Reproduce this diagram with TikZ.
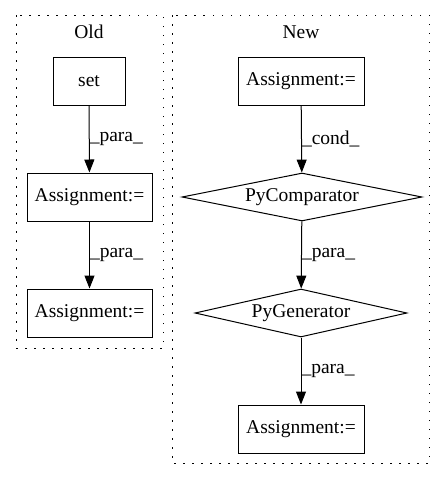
\documentclass[tikz,border=0pt]{standalone}
\usepackage{fontspec}
\setmainfont{Liberation Serif}
\usetikzlibrary{shapes.geometric,arrows.meta}
\begin{document}
\begin{tikzpicture}[x=1pt,y=-1pt,
  every node/.style={font=\fontsize{19.5pt}{22pt}\selectfont},
  cluster/.style={draw,line width=1pt,dash pattern=on 1.5pt off 7.5pt},
  box/.style={draw,line width=1pt,rectangle,inner sep=0pt},
  dia/.style={draw,line width=1pt,diamond,aspect=5,inner sep=0pt},
  edge/.style={line width=1pt,-{Triangle[length=13pt,width=10pt]}},
  elabel/.style={anchor=west,inner sep=0pt}]
\useasboundingbox (0,0) rectangle (445,480);
\draw[cluster] (16,15) rectangle (163,348);
\draw[cluster] (172,15) rectangle (429,463);
\node (oldt) at (89,32) {Old};
\node (newt) at (301,32) {New};
\node[box,minimum width=72pt,minimum height=48pt] (set) at (89,81) {set};
\node[box,minimum width=125pt,minimum height=48pt] (oa1) at (89.5,197) {Assignment:=};
\node[box,minimum width=125pt,minimum height=48pt] (oa2) at (89.5,313) {Assignment:=};
\node[box,minimum width=126pt,minimum height=48pt] (na1) at (301,81) {Assignment:=};
\node[dia,minimum width=240pt,minimum height=48pt] (pc) at (302,197) {PyComparator};
\node[dia,minimum width=212pt,minimum height=48pt] (pg) at (301,313) {PyGenerator};
\node[box,minimum width=126pt,minimum height=48pt] (na2) at (301,429) {Assignment:=};
\draw[edge] (set) -- (oa1) node[elabel,pos=0.5] {\_para\_};
\draw[edge] (oa1) -- (oa2) node[elabel,pos=0.5] {\_para\_};
\draw[edge] (na1) -- (pc) node[elabel,pos=0.5] {\_cond\_};
\draw[edge] (pc) -- (pg) node[elabel,pos=0.5] {\_para\_};
\draw[edge] (pg) -- (na2) node[elabel,pos=0.5] {\_para\_};
\end{tikzpicture}
\end{document}
